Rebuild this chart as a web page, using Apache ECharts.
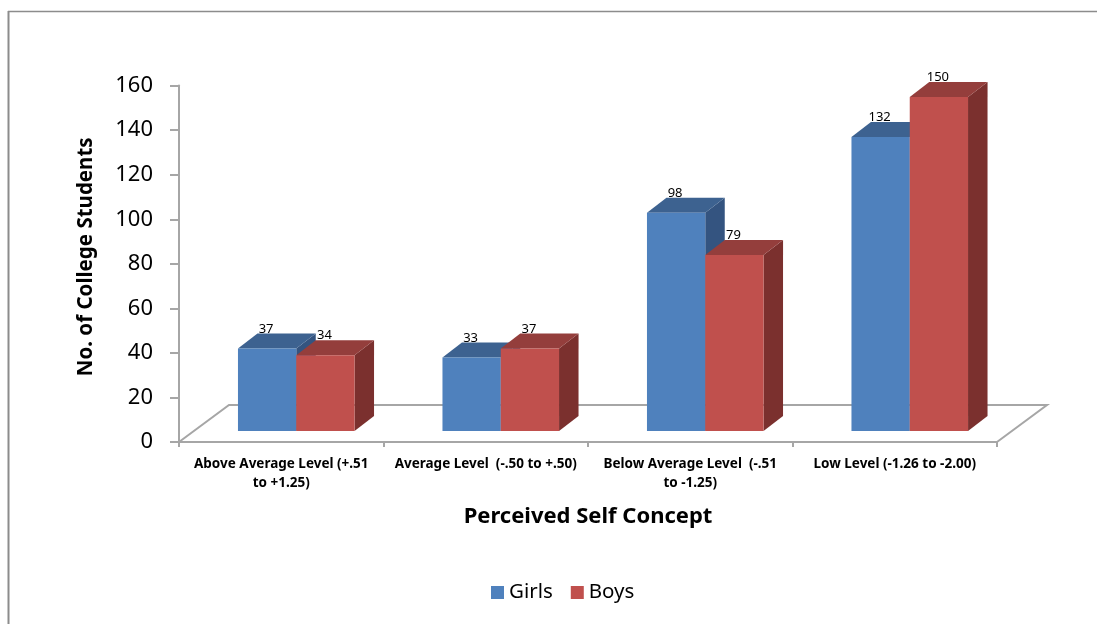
<!DOCTYPE html>
<html>
<head>
<meta charset="utf-8">
<script src="https://cdn.jsdelivr.net/npm/echarts@6/dist/echarts.min.js"></script>
<style>
html,body{margin:0;padding:0;background:#fff;}
#chart{width:1097px;height:624px;}
</style>
</head>
<body>
<div id="chart"></div>
<script>
// ---- data ----
var categories = [
  'Above Average Level (+.51\nto +1.25)',
  'Average Level  (-.50 to +.50)',
  'Below Average Level  (-.51\nto -1.25)',
  'Low Level (-1.26 to -2.00)'
];
var girls = [37, 33, 98, 132];
var boys = [34, 37, 79, 150];
var seriesNames = ['Girls', 'Boys'];
var yTicks = { min: 0, max: 160, interval: 20 };

// ---- style ----
var FONT = 'Noto Sans';
var COLORS = [
  { front: '#4F81BD', top: '#3D6290', side: '#345480' },
  { front: '#C0504D', top: '#943E3C', side: '#7B302E' }
];
var BAR_RATIO = 0.285;   // bar width / category band
var SHIFT_X = 15, SHIFT_Y = 11;   // bar row sits inside the floor depth
var DX = 19.5, DY = 15;           // bar depth
var FX = 50, FY = 37;             // floor depth
var GRID_COLOR = '#A6A6A6';

function barRenderer(sIdx) {
  var c = COLORS[sIdx];
  return function (params, api) {
    var i = api.value(0), v = api.value(1);
    var base = api.coord([i, 0]);
    var top = api.coord([i, v]);
    var band = api.size([1, 0])[0];
    var bw = band * BAR_RATIO;
    var cx = base[0] + SHIFT_X;
    var x0 = sIdx === 0 ? cx - bw : cx;
    var x1 = x0 + bw;
    var yb = base[1] - SHIFT_Y;
    var yt = top[1] - SHIFT_Y;
    return {
      type: 'group',
      children: [
        { type: 'polygon', shape: { points: [[x1, yb], [x1 + DX, yb - DY], [x1 + DX, yt - DY], [x1, yt]] },
          style: { fill: c.side } },
        { type: 'polygon', shape: { points: [[x0, yt], [x0 + DX, yt - DY], [x1 + DX, yt - DY], [x1, yt]] },
          style: { fill: c.top } },
        { type: 'rect', shape: { x: x0, y: yt, width: bw, height: yb - yt },
          style: { fill: c.front } },
        { type: 'text', x: (x0 + x1) / 2 - 1, y: yt - DY + 2,
          style: { text: String(v), align: 'center', verticalAlign: 'bottom',
                   font: '13px "' + FONT + '"', fill: '#000' } }
      ]
    };
  };
}

function floorRenderer(params, api) {
  var cs = params.coordSys;
  var yb = cs.y + cs.height;
  return {
    type: 'polyline',
    shape: { points: [[cs.x, yb], [cs.x + FX, yb - FY], [cs.x + cs.width + FX, yb - FY], [cs.x + cs.width, yb]] },
    style: { stroke: GRID_COLOR, lineWidth: 2, fill: null }
  };
}

var chart = echarts.init(document.getElementById('chart'));
chart.setOption({
  animation: false,
  backgroundColor: '#fff',
  textStyle: { fontFamily: FONT },
  graphic: [
    { type: 'line', shape: { x1: 8, y1: 11.5, x2: 1097, y2: 11.5 }, style: { stroke: '#8C8C8C', lineWidth: 1.5 } },
    { type: 'line', shape: { x1: 8.5, y1: 11, x2: 8.5, y2: 624 }, style: { stroke: '#8C8C8C', lineWidth: 2 } }
  ],
  grid: { left: 179, right: 100, top: 85.6, bottom: 182, containLabel: false },
  legend: {
    data: seriesNames,
    left: 491, top: 582, padding: 0,
    itemWidth: 13, itemHeight: 13, itemGap: 18,
    icon: 'rect',
    textStyle: { fontFamily: FONT, fontSize: 20.5, color: '#000' }
  },
  xAxis: {
    type: 'category',
    data: categories,
    name: 'Perceived Self Concept',
    nameLocation: 'middle',
    nameGap: 62,
    nameTextStyle: { fontFamily: FONT, fontSize: 22, fontWeight: 'bold', color: '#000', lineHeight: 26 },
    axisLine: { lineStyle: { color: GRID_COLOR, width: 2 } },
    axisTick: { show: true, length: 5, lineStyle: { color: GRID_COLOR, width: 2 } },
    axisLabel: { interval: 0, margin: 13, fontFamily: FONT, fontSize: 13.5, fontWeight: 'bold', color: '#000', lineHeight: 19 }
  },
  yAxis: {
    type: 'value',
    min: yTicks.min, max: yTicks.max, interval: yTicks.interval,
    name: 'No. of College Students',
    nameLocation: 'middle',
    nameGap: 82,
    nameTextStyle: { fontFamily: FONT, fontSize: 20.5, fontWeight: 'bold', color: '#000', padding: [0, 0, 0, 14] },
    axisLine: { show: true, lineStyle: { color: GRID_COLOR, width: 2 } },
    axisTick: { show: true, length: 9, lineStyle: { color: GRID_COLOR, width: 2 } },
    axisLabel: { margin: 26, fontFamily: FONT, fontSize: 22, color: '#000' },
    splitLine: { show: false }
  },
  series: [
    { type: 'custom', name: 'floor', silent: true, renderItem: floorRenderer, data: [[0, 0]], z: 1 },
    { type: 'custom', name: seriesNames[0], renderItem: barRenderer(0), itemStyle: { color: COLORS[0].front },
      data: girls.map(function (v, i) { return [i, v]; }), z: 2 },
    { type: 'custom', name: seriesNames[1], renderItem: barRenderer(1), itemStyle: { color: COLORS[1].front },
      data: boys.map(function (v, i) { return [i, v]; }), z: 3 }
  ]
});
</script>
</body>
</html>
